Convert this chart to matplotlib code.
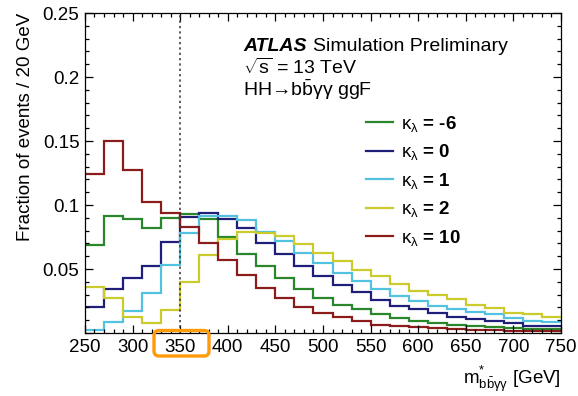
import numpy as np
import matplotlib
matplotlib.use("Agg")
import matplotlib.pyplot as plt
from matplotlib.patches import FancyBboxPatch
from matplotlib.ticker import MultipleLocator, FuncFormatter

plt.rcParams["font.family"] = ["Liberation Sans", "DejaVu Sans"]
plt.rcParams["mathtext.fontset"] = "custom"
plt.rcParams["mathtext.rm"] = "Liberation Sans"
plt.rcParams["mathtext.it"] = "Liberation Sans:italic"
plt.rcParams["mathtext.bf"] = "Liberation Sans:bold"

# 20 GeV bins from 250 to 750 GeV
edges = np.arange(250, 751, 20)

kl_m6 = [0.0685, 0.0915, 0.0890, 0.0824, 0.0900, 0.0928, 0.0890, 0.0754, 0.0617, 0.0520,
         0.0430, 0.0341, 0.0277, 0.0217, 0.0186, 0.0147, 0.0114, 0.0095, 0.0078, 0.0064,
         0.0057, 0.0045, 0.0038, 0.0033, 0.0030]
kl_0 = [0.0207, 0.0346, 0.0432, 0.0527, 0.0710, 0.0904, 0.0940, 0.0890, 0.0819, 0.0706,
        0.0615, 0.0520, 0.0444, 0.0372, 0.0320, 0.0260, 0.0212, 0.0186, 0.0153, 0.0129,
        0.0109, 0.0095, 0.0075, 0.0057, 0.0052]
kl_1 = [0.0026, 0.0090, 0.0173, 0.0315, 0.0530, 0.0785, 0.0917, 0.0917, 0.0884, 0.0793,
        0.0722, 0.0625, 0.0548, 0.0470, 0.0405, 0.0346, 0.0290, 0.0250, 0.0212, 0.0186,
        0.0163, 0.0147, 0.0114, 0.0095, 0.0083]
kl_2 = [0.0359, 0.0277, 0.0122, 0.0078, 0.0178, 0.0400, 0.0607, 0.0736, 0.0793, 0.0780,
        0.0762, 0.0695, 0.0625, 0.0560, 0.0496, 0.0446, 0.0380, 0.0328, 0.0295, 0.0264,
        0.0222, 0.0199, 0.0160, 0.0147, 0.0122]
kl_10 = [0.1245, 0.1500, 0.1270, 0.1025, 0.0940, 0.0832, 0.0703, 0.0574, 0.0457, 0.0350,
         0.0271, 0.0207, 0.0160, 0.0122, 0.0095, 0.0065, 0.0057, 0.0044, 0.0038, 0.0032,
         0.0026, 0.0022, 0.0018, 0.0016, 0.0014]

series = [kl_m6, kl_0, kl_1, kl_2, kl_10]
labels = ["-6", "0", "1", "2", "10"]
colors = ["#2a862a", "#1f1f7a", "#52c2e0", "#cbcb2e", "#8a1c1c"]

fig = plt.figure(figsize=(5.78, 3.96), dpi=100)
ax = fig.add_axes([0.147, 0.159, 0.8236, 0.808])

for vals, lab, col in zip(series, labels, colors):
    ax.stairs(vals, edges, baseline=None, color=col, lw=1.6,
              label=r"$\mathrm{\kappa}_{\mathrm{\lambda}}$ = " + lab)

ax.axvline(350, color="#333333", ls=(0, (1.5, 2)), lw=1.1)

ax.set_xlim(250, 750)
ax.set_ylim(0, 0.25)
ax.xaxis.set_major_locator(MultipleLocator(50))
ax.xaxis.set_minor_locator(MultipleLocator(10))
ax.yaxis.set_major_locator(MultipleLocator(0.05))
ax.yaxis.set_minor_locator(MultipleLocator(0.01))
ax.yaxis.set_major_formatter(FuncFormatter(lambda v, p: "" if abs(v) < 1e-9 else f"{v:g}"))
ax.tick_params(which="both", direction="in", top=True, right=True, labelsize=13.5, width=0.9)
ax.tick_params(which="major", length=6, pad=4)
ax.tick_params(which="minor", length=3)
for sp in ax.spines.values():
    sp.set_linewidth(0.9)

ax.set_xlabel(r"m$^{*}_{\mathrm{b\bar{b}\gamma\gamma}}$ [GeV]", fontsize=13.5, loc="right", labelpad=6)
ax.set_ylabel("Fraction of events / 20 GeV", fontsize=13.5, loc="top", labelpad=6)

ax.text(0.332, 0.897, "ATLAS", transform=ax.transAxes, fontsize=14,
        fontweight="bold", fontstyle="italic", va="center")
ax.text(0.479, 0.897, "Simulation Preliminary", transform=ax.transAxes,
        fontsize=14, va="center")
ax.text(0.332, 0.828, r"$\sqrt{\mathrm{s}}$ = 13 TeV", transform=ax.transAxes,
        fontsize=14, va="center")
ax.text(0.332, 0.759, "HH\u2192b" + r"$\bar{\mathrm{b}}\mathrm{\gamma\gamma}$ ggF",
        transform=ax.transAxes, fontsize=14, va="center")

leg = ax.legend(loc="upper left", bbox_to_anchor=(0.59, 0.685), frameon=False,
                prop={"size": 13.5, "weight": "bold"}, handlelength=1.45,
                handletextpad=0.4, labelspacing=0.45, borderpad=0, borderaxespad=0)

# orange highlight around the 350 tick label
box = FancyBboxPatch((1.54, 0.40), 0.55, 0.255,
                     boxstyle="round,pad=0,rounding_size=0.05",
                     transform=fig.dpi_scale_trans, fill=False,
                     edgecolor="#ff9a0a", lw=2.4, clip_on=False)
fig.add_artist(box)

fig.savefig("out.png", dpi=100)
